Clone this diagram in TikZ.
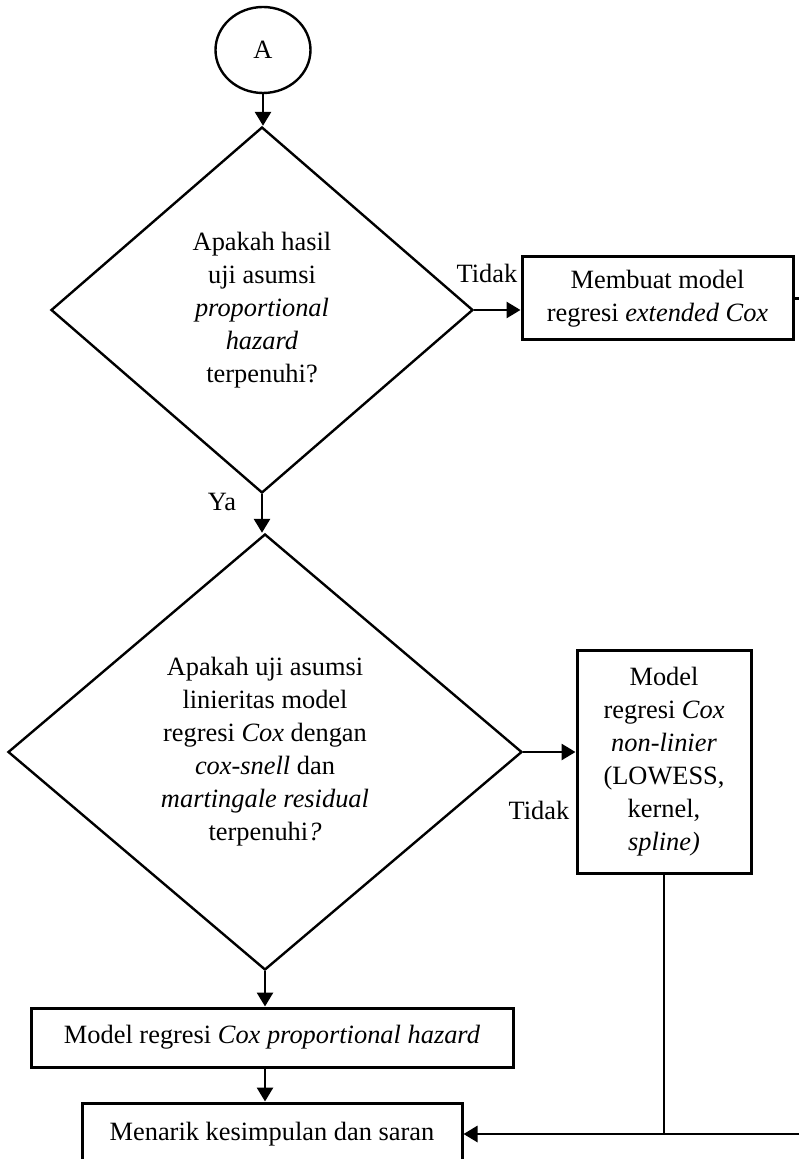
\documentclass[tikz,border=0pt]{standalone}
\usepackage{fontspec}
\setmainfont{Liberation Serif}
\usetikzlibrary{shapes.geometric,arrows.meta}

\begin{document}
\begin{tikzpicture}[x=0.5pt,y=-0.5pt,line width=1.2pt,
  every node/.style={font=\fontsize{13.2}{16.5}\selectfont},
  box/.style={draw,line width=1.5pt,align=center,inner sep=0pt},
  decision/.style={draw,diamond,align=center,inner sep=0pt},
  arr/.style={line width=1.4pt,-{Triangle[length=7pt,width=8pt]}}]
\useasboundingbox (0,0) rectangle (799,1159);

\node[draw,ellipse,minimum width=47.5pt,minimum height=43pt,inner sep=0pt] (a) at (263,50) {A};
\node[decision,minimum width=211pt,minimum height=183pt] (d1) at (262,310)
  {Apakah hasil\\uji asumsi\\\textit{proportional}\\\textit{hazard}\\terpenuhi?};
\node[box,minimum width=135.5pt,minimum height=41.5pt] (ext) at (657.5,298.5)
  {Membuat model\\regresi \textit{extended Cox}};
\node[decision,minimum width=257pt,minimum height=218pt] (d2) at (265,752)
  {Apakah uji asumsi\\linieritas model\\regresi \textit{Cox} dengan\\\textit{cox-snell} dan\\\textit{martingale residual}\\terpenuhi\textit{?}};
\node[box,minimum width=87pt,minimum height=111.5pt] (nonlin) at (664,761.5)
  {Model\\regresi \textit{Cox}\\\textit{non-linier}\\(LOWESS,\\kernel,\\\textit{spline)}};
\node[box,minimum width=241pt,minimum height=29.5pt] (ph) at (272,1037.5)
  {Model regresi \textit{Cox proportional hazard}};
\node[box,minimum width=190pt,minimum height=31pt] (kes) at (272,1134)
  {Menarik kesimpulan dan saran};

% labels
\node (tidak1) at (487,273) {Tidak};
\node (ya) at (222,502) {Ya};
\node (tidak2) at (539,810) {Tidak};

\coordinate (extout) at (799,298.5);
\coordinate (ret) at (799,1134);

\draw[arr] (a.south) -- (a.south |- d1.north);
\draw[arr] (d1.east) -- (ext.west |- d1.east);
\draw[line width=1.4pt] (ext.east) -- (extout);
\draw[arr] (d1.south) -- (d1.south |- d2.north);
\draw[arr] (d2.east) -- (nonlin.west |- d2.east);
\draw[arr] (d2.south) -- (d2.south |- ph.north);
\draw[arr] (d2.south |- ph.south) -- (d2.south |- kes.north);
\draw[line width=1.4pt] (nonlin.south) -- (nonlin.south |- kes.east);
\draw[arr] (ret) -- (kes.east);
\end{tikzpicture}
\end{document}
